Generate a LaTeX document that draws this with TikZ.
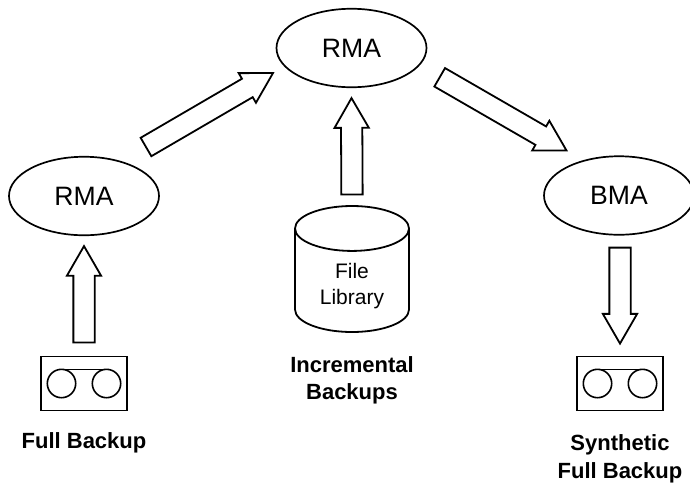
\documentclass[tikz,border=0pt]{standalone}
\usepackage{fontspec}
\setmainfont{Liberation Sans}
\usetikzlibrary{calc, shapes.geometric, shapes.arrows}

\tikzset{
	agent/.style = {draw, ellipse, line width = 1.7pt, inner sep = 0, minimum width = 150pt, minimum height = 78.5pt, font = \fontsize{26.6}{30}\selectfont},
	fatarrow/.style = {draw, single arrow, line width = 1.8pt, inner xsep = 0, inner ysep = 9.75pt, outer sep = 0, single arrow head extend = 6.5pt, single arrow tip angle = 60, sloped, allow upside down, pos = 0, anchor = tail},
	tapebox/.style = {draw, rectangle, line width = 1.9pt, inner sep = 0, minimum width = 86pt, minimum height = 54pt},
	reel/.style = {line width = 1.6pt},
	filestore/.style = {draw, cylinder, shape border rotate = 90, aspect = 0.7, line width = 1.8pt, inner sep = 0, minimum width = 114pt, minimum height = 126pt, anchor = shape center, font = \fontsize{21}{26}\selectfont},
	filetext/.style = {align = center, inner sep = 0, font = \fontsize{21}{26}\selectfont},
	caption/.style = {align = center, inner sep = 0, font = \fontsize{22}{28.5}\selectfont\bfseries}
}

\newcommand{\blockarrow}[3]{
	\path let \p1 = ($(#2) - (#1)$), \n1 = {veclen(\x1, \y1)} in
		(#1) -- node [fatarrow, minimum height = \n1] (#3) {} (#2);
}

\begin{document}
\begin{tikzpicture}[x = 1pt, y = -1pt]

	\useasboundingbox (0, 0) rectangle (690, 483);

	% Agents

	\node [agent] (rmaTop) at (351.5, 48) {RMA};
	\node [agent] (rmaLeft) at (84, 196) {RMA};
	\node [agent] (bma) at (619, 195.5) {BMA};

	% Tapes with their two reels

	\foreach \tapename/\x in {tapeLeft/84, tapeRight/620}
		{
		\node [tapebox] (\tapename) at (\x, 383.5) {};
		\draw [reel] (\x - 22.5, 383.5) circle (14.2pt);
		\draw [reel] (\x + 22.5, 383.5) circle (14.2pt);
		\draw [reel] (\x - 22.5, 369.3) -- (\x + 22.5, 369.3);
		}

	% File library

	\node [filestore] (library) at (352, 269) {\phantom{Library}};
	\node [filetext] (libraryText) at (352, 286) {File\\Library};

	% Labels

	\node [caption] (fullLabel) at (84, 442.5) {Full Backup};
	\node [caption, font = \fontsize{22}{27}\selectfont\bfseries] (incrLabel) at (352, 380) {Incremental\\Backups};
	\node [caption] (synthLabel) at (620, 459) {Synthetic\\Full Backup};

	% Ends of the block arrows

	\coordinate (leftTail) at ($(tapeLeft.north) + (0, -13)$);
	\coordinate (leftTip) at ($(rmaLeft.south) + (0, 10)$);
	\coordinate (midTail) at (352, 194.5);
	\coordinate (midTip) at ($(rmaTop.south) + (0, 10)$);
	\coordinate (riseTail) at (146, 147);
	\coordinate (riseTip) at (273, 73);
	\coordinate (fallTail) at (439.7, 77.3);
	\coordinate (fallTip) at (566.5, 150.5);
	\coordinate (downTail) at ($(bma.south) + (1, 12)$);
	\coordinate (downTip) at ($(tapeRight.north) + (0, -12)$);

	\blockarrow{leftTail}{leftTip}{arrowLeft}
	\blockarrow{midTail}{midTip}{arrowMid}
	\blockarrow{riseTail}{riseTip}{arrowRise}
	\blockarrow{fallTail}{fallTip}{arrowFall}
	\blockarrow{downTail}{downTip}{arrowDown}

\end{tikzpicture}
\end{document}
